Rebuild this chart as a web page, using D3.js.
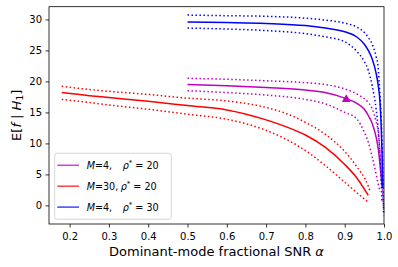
<!DOCTYPE html>
<html>
<head>
<meta charset="utf-8">
<script src="https://cdn.jsdelivr.net/npm/d3@7"></script>
<style>
  body { margin: 0; background: #fff; }
  svg { font-family: "DejaVu Sans", sans-serif; }
</style>
</head>
<body>
<div id="chart"></div>
<script>
// alpha grids and curves
var alphaM4r20 = [0.5, 0.6, 0.7, 0.8, 0.85, 0.9, 0.93, 0.95, 0.96, 0.97, 0.98, 0.985, 0.99, 0.993, 0.995, 0.997, 0.999];
var meanM4r20 = [19.5, 19.3, 19.0, 18.6, 18.2, 17.3, 16.5, 15.5, 14.5, 13.2, 11.0, 9.3, 6.5, 4.5, 3.0, null, null];
var hiM4r20 = [20.5, 20.35, 20.1, 19.8, 19.5, 18.8, 18.0, 17.2, 16.6, 15.6, 13.5, 12.0, 8.5, 5.5, 3.5, 1.5, -0.7];
var loM4r20 = [18.5, 18.2, 17.8, 17.1, 16.4, 15.0, 14.0, 11.8, 10.2, 7.8, 5.0, 3.5, 2.2, null, null, null, null];

var alphaM30r20 = [0.18, 0.25, 0.3, 0.4, 0.5, 0.6, 0.7, 0.75, 0.8, 0.85, 0.9, 0.93, 0.96, 0.965];
var meanM30r20 = [18.2, 17.7, 17.4, 16.8, 16.1, 15.4, 13.8, 12.7, 11.35, 9.4, 6.6, 4.5, 1.6, null];
var hiM30r20 = [19.2, 18.7, 18.4, 17.9, 17.3, 16.85, 15.8, 14.85, 13.4, 11.5, 8.7, 6.3, 3.1, 2.2];
var loM30r20 = [17.1, 16.6, 16.2, 15.5, 14.7, 13.9, 12.1, 10.7, 8.85, 6.45, 3.75, 2.1, 0.5, null];

var alphaM4r30 = [0.5, 0.6, 0.7, 0.8, 0.85, 0.9, 0.93, 0.95, 0.96, 0.97, 0.98, 0.985, 0.99, 0.993, 0.995, 0.997, 0.999];
var meanM4r30 = [29.6, 29.5, 29.35, 29.0, 28.6, 28.0, 27.2, 26.0, 25.0, 23.6, 21.3, 19.5, 16.5, 12.5, 8.5, 2.8, null];
var hiM4r30 = [30.7, 30.6, 30.5, 30.2, 29.9, 29.4, 28.8, 27.9, 27.1, 26.0, 24.0, 22.3, 17.5, 14.0, 10.5, 5.5, -1.6];
var loM4r30 = [28.6, 28.45, 28.2, 27.7, 27.2, 26.4, 24.9, 23.2, 21.8, 19.3, 15.5, 12.5, 8.0, 4.0, 0.5, null, null];

var markerAlpha = [0.904];
var markerValue = [17.1];

var xTicks = [0.2, 0.3, 0.4, 0.5, 0.6, 0.7, 0.8, 0.9, 1.0];
var yTicks = [0, 5, 10, 15, 20, 25, 30];

var seriesColors = ["#bf00bf", "#ff0000", "#0000ff"];
var legendM = ["4", "30", "4"];
var legendRho = ["20", "20", "30"];

var margin = {top: 6.7, right: 14, bottom: 43, left: 49},
    width = 398 - margin.left - margin.right,
    height = 267 - margin.top - margin.bottom;

var svg = d3.select("#chart")
    .append("svg")
    .attr("width", 398)
    .attr("height", 267)
    .append("g")
    .attr("transform", "translate(" + margin.left + "," + margin.top + ")");

var x = d3.scaleLinear().domain([0.1475, 1.0]).range([0, width]);
var y = d3.scaleLinear().domain([-3.0, 32.05]).range([height, 0]);

// curves
var series = [
    {a: alphaM4r20, mean: meanM4r20, hi: hiM4r20, lo: loM4r20, color: seriesColors[0]},
    {a: alphaM30r20, mean: meanM30r20, hi: hiM30r20, lo: loM30r20, color: seriesColors[1]},
    {a: alphaM4r30, mean: meanM4r30, hi: hiM4r30, lo: loM4r30, color: seriesColors[2]}
];

var line = d3.line()
    .defined(function(d) { return d[1] != null; })
    .x(function(d) { return x(d[0]); })
    .y(function(d) { return y(d[1]); })
    .curve(d3.curveMonotoneX);

var plot = svg.append("g");

series.forEach(function(s) {
    ["hi", "lo"].forEach(function(k) {
        plot.append("path")
            .datum(s.a.map(function(a, i) { return [a, s[k][i]]; }))
            .attr("fill", "none")
            .attr("stroke", s.color)
            .attr("stroke-width", 1.5)
            .attr("stroke-dasharray", "1.5,2.475")
            .attr("d", line);
    });
    plot.append("path")
        .datum(s.a.map(function(a, i) { return [a, s.mean[i]]; }))
        .attr("fill", "none")
        .attr("stroke", s.color)
        .attr("stroke-width", 1.5)
        .attr("d", line);
});

plot.selectAll(".marker")
    .data(markerAlpha)
    .enter().append("path")
    .attr("class", "marker")
    .attr("transform", function(d, i) { return "translate(" + x(d) + "," + y(markerValue[i]) + ")"; })
    .attr("d", d3.symbol().type(d3.symbolTriangle).size(34))
    .attr("fill", seriesColors[0]);

// axes
var xAxis = svg.append("g")
    .attr("transform", "translate(0," + height + ")")
    .call(d3.axisBottom(x).tickValues(xTicks).tickFormat(d3.format(".1f")).tickSize(3.5).tickPadding(5));
var yAxis = svg.append("g")
    .call(d3.axisLeft(y).tickValues(yTicks).tickSize(3.5).tickPadding(3.5));

[xAxis, yAxis].forEach(function(g) {
    g.select(".domain").remove();
    g.selectAll(".tick line").attr("stroke", "#000").attr("stroke-width", 0.8);
    g.selectAll(".tick text").attr("fill", "#000").style("font-size", "10px").style("font-family", "DejaVu Sans");
});

svg.append("rect")
    .attr("width", width)
    .attr("height", height)
    .attr("fill", "none")
    .attr("stroke", "#000")
    .attr("stroke-width", 0.8);

// axis labels
svg.append("text")
    .attr("x", width / 2)
    .attr("y", height + 32.5)
    .attr("text-anchor", "middle")
    .style("font-size", "13px")
    .text("Dominant-mode fractional SNR ")
    .append("tspan").style("font-style", "italic").text("α");

var yl = svg.append("text")
    .attr("transform", "translate(" + (20.5 - margin.left) + "," + (height / 2) + ") rotate(-90)")
    .attr("text-anchor", "middle")
    .style("font-size", "13px");
yl.append("tspan").text("E[");
yl.append("tspan").style("font-style", "italic").text("f");
yl.append("tspan").text(" | ");
yl.append("tspan").style("font-style", "italic").text("H");
yl.append("tspan").attr("dy", 2.5).style("font-size", "9px").text("1");
yl.append("tspan").attr("dy", -2.5).text("]");

// legend
var legend = svg.append("g").attr("transform", "translate(5.7,146.6)");
legend.append("rect")
    .attr("width", 116.6)
    .attr("height", 66)
    .attr("rx", 2.5)
    .attr("fill", "#fff")
    .attr("fill-opacity", 0.8)
    .attr("stroke", "#cccccc")
    .attr("stroke-width", 0.8);

var rows = legend.selectAll(".row")
    .data(seriesColors)
    .enter().append("g")
    .attr("class", "row")
    .attr("transform", function(d, i) { return "translate(0," + (12 + i * 20.9) + ")"; });

rows.append("line")
    .attr("x1", 2.6).attr("x2", 24.3)
    .attr("stroke", function(d) { return d; })
    .attr("stroke-opacity", 0.75)
    .attr("stroke-width", 1.5);

rows.each(function(d, i) {
    var t = d3.select(this).append("text")
        .attr("x", 32)
        .attr("y", 3.6)
        .style("font-size", "9.6px");
    t.append("tspan").style("font-style", "italic").text("M");
    t.append("tspan").text("=" + legendM[i] + ",");
    t.append("tspan").attr("x", legendM[i].length > 1 ? 66 : 68).style("font-style", "italic").text("ρ");
    t.append("tspan").attr("dy", -4).style("font-size", "7px").text("*");
    t.append("tspan").attr("dy", 4).text(" = " + legendRho[i]);
});
</script>
</body>
</html>
